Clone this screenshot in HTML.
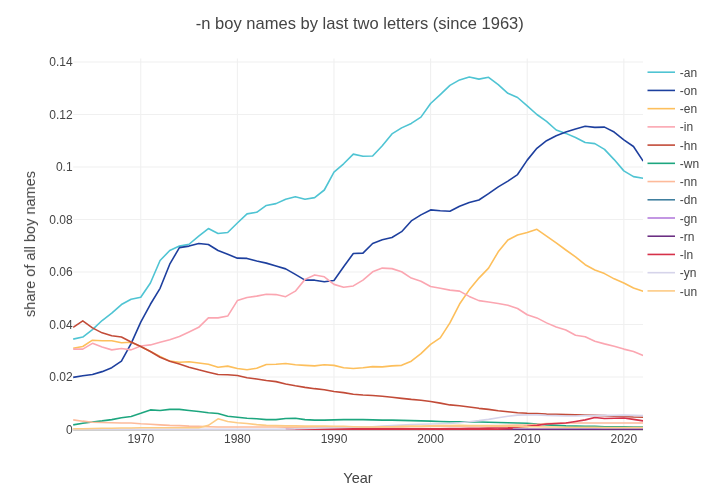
<!DOCTYPE html>
<html><head><meta charset="utf-8"><title>-n boy names by last two letters (since 1963)</title>
<style>
html,body{margin:0;padding:0;background:#fff;}
body{width:720px;height:503px;overflow:hidden;}
svg{display:block;font-family:"Liberation Sans",sans-serif;}
.tick{font-size:12px;fill:#444;}
.leg{font-size:12px;fill:#444;}
.title{font-size:16.55px;fill:#444;}
.axt{font-size:14.5px;fill:#444;}
.grid{stroke:#f0f0f0;stroke-width:1.1;}
.ln{fill:none;stroke-width:1.6;stroke-linejoin:round;stroke-linecap:butt;}
</style></head><body>
<svg width="720" height="503" viewBox="0 0 720 503">
<rect x="0" y="0" width="720" height="503" fill="#fff"/>
<defs><filter id="bl" x="-5%" y="-5%" width="110%" height="110%"><feGaussianBlur stdDeviation="0.35"/></filter><filter id="bt" filterUnits="userSpaceOnUse" x="0" y="0" width="720" height="503"><feGaussianBlur stdDeviation="0.45"/></filter><clipPath id="cp"><rect x="73.10" y="58.50" width="570.00" height="371.45"/></clipPath></defs>

<line class="grid" x1="140.75" x2="140.75" y1="58.50" y2="430.50"/>
<line class="grid" x1="237.37" x2="237.37" y1="58.50" y2="430.50"/>
<line class="grid" x1="333.98" x2="333.98" y1="58.50" y2="430.50"/>
<line class="grid" x1="430.60" x2="430.60" y1="58.50" y2="430.50"/>
<line class="grid" x1="527.22" x2="527.22" y1="58.50" y2="430.50"/>
<line class="grid" x1="623.83" x2="623.83" y1="58.50" y2="430.50"/>
<line class="grid" x1="73.20" x2="643.00" y1="377.00" y2="377.00"/>
<line class="grid" x1="73.20" x2="643.00" y1="324.50" y2="324.50"/>
<line class="grid" x1="73.20" x2="643.00" y1="272.00" y2="272.00"/>
<line class="grid" x1="73.20" x2="643.00" y1="219.50" y2="219.50"/>
<line class="grid" x1="73.20" x2="643.00" y1="167.00" y2="167.00"/>
<line class="grid" x1="73.20" x2="643.00" y1="114.50" y2="114.50"/>
<line class="grid" x1="73.20" x2="643.00" y1="62.00" y2="62.00"/>
<line x1="73.20" x2="643.00" y1="430.30" y2="430.30" stroke="#b4b4b4" stroke-width="0.8"/>
<g clip-path="url(#cp)"><g filter="url(#bl)">
<polyline class="ln" stroke="#4FC4D3" points="73.12,339.14 82.78,337.04 92.44,329.70 102.10,320.53 111.77,313.19 121.43,304.54 131.09,299.30 140.75,297.20 150.41,283.05 160.07,260.51 169.74,250.55 179.40,246.09 189.06,244.26 198.72,236.13 208.38,228.53 218.04,233.51 227.71,232.46 237.37,223.03 247.03,213.85 256.69,212.28 266.35,205.47 276.01,203.63 285.68,199.18 295.34,196.82 305.00,199.18 314.66,197.60 324.32,190.00 333.98,172.18 343.64,163.79 353.31,154.10 362.97,156.19 372.63,155.93 382.29,145.71 391.95,133.91 401.61,127.88 411.28,123.43 420.94,117.14 430.60,103.51 440.26,94.60 449.92,85.42 459.58,79.92 469.25,77.04 478.91,79.13 488.57,77.30 498.23,84.64 507.89,93.29 517.55,97.48 527.22,105.87 536.88,114.52 546.54,121.33 556.20,129.98 565.86,133.39 575.52,137.58 585.18,142.56 594.85,143.61 604.51,149.38 614.17,159.60 623.83,170.87 633.49,176.64 643.15,178.21"/>
<polyline class="ln" stroke="#1F3F9E" points="73.12,377.40 82.78,375.83 92.44,374.52 102.10,371.64 111.77,367.71 121.43,361.15 131.09,343.59 140.75,322.10 150.41,304.28 160.07,288.29 169.74,264.18 179.40,247.66 189.06,246.09 198.72,243.47 208.38,244.52 218.04,250.55 227.71,254.22 237.37,258.15 247.03,258.41 256.69,261.03 266.35,263.13 276.01,266.01 285.68,268.89 295.34,274.40 305.00,280.17 314.66,280.17 324.32,281.74 333.98,280.43 343.64,266.80 353.31,253.43 362.97,253.17 372.63,243.47 382.29,239.80 391.95,237.44 401.61,231.68 411.28,220.93 420.94,214.90 430.60,209.92 440.26,210.71 449.92,211.23 459.58,206.25 469.25,202.58 478.91,199.96 488.57,193.67 498.23,186.86 507.89,181.09 517.55,174.54 527.22,160.12 536.88,148.33 546.54,140.73 556.20,135.75 565.86,132.08 575.52,128.93 585.18,126.31 594.85,127.36 604.51,127.10 614.17,132.08 623.83,139.94 633.49,146.49 643.15,161.17"/>
<polyline class="ln" stroke="#FDBF5B" points="73.12,348.31 82.78,346.48 92.44,340.19 102.10,340.71 111.77,340.71 121.43,342.81 131.09,342.28 140.75,346.48 150.41,351.46 160.07,356.44 169.74,361.15 179.40,362.20 189.06,361.68 198.72,362.99 208.38,364.30 218.04,367.18 227.71,366.13 237.37,368.49 247.03,369.80 256.69,368.23 266.35,364.56 276.01,364.30 285.68,363.51 295.34,364.82 305.00,365.35 314.66,365.87 324.32,364.82 333.98,365.35 343.64,367.71 353.31,368.49 362.97,367.71 372.63,366.66 382.29,366.92 391.95,365.87 401.61,365.35 411.28,361.15 420.94,353.55 430.60,344.38 440.26,337.83 449.92,322.89 459.58,304.02 469.25,289.86 478.91,278.07 488.57,268.11 498.23,251.86 507.89,240.06 517.55,235.08 527.22,232.46 536.88,229.32 546.54,236.13 556.20,242.95 565.86,250.02 575.52,256.84 585.18,264.70 594.85,269.94 604.51,273.61 614.17,278.85 623.83,283.05 633.49,288.03 643.15,291.17"/>
<polyline class="ln" stroke="#FBA6B1" points="73.12,349.10 82.78,349.10 92.44,343.33 102.10,347.00 111.77,349.88 121.43,348.57 131.09,349.88 140.75,345.95 150.41,344.90 160.07,342.28 169.74,339.66 179.40,336.52 189.06,332.06 198.72,327.34 208.38,317.91 218.04,317.91 227.71,316.07 237.37,300.61 247.03,297.46 256.69,296.15 266.35,294.32 276.01,294.58 285.68,296.68 295.34,291.17 305.00,279.38 314.66,274.92 324.32,276.76 333.98,284.36 343.64,287.24 353.31,285.93 362.97,280.17 372.63,271.78 382.29,268.11 391.95,268.63 401.61,271.78 411.28,278.07 420.94,281.21 430.60,286.46 440.26,288.29 449.92,290.12 459.58,291.17 469.25,296.42 478.91,300.61 488.57,301.92 498.23,303.49 507.89,305.33 517.55,308.47 527.22,314.76 536.88,317.91 546.54,322.89 556.20,327.08 565.86,329.96 575.52,335.21 585.18,336.78 594.85,341.23 604.51,343.86 614.17,346.21 623.83,349.10 633.49,351.46 643.15,355.39"/>
<polyline class="ln" stroke="#C24B38" points="73.12,327.34 82.78,320.79 92.44,327.87 102.10,332.85 111.77,335.73 121.43,337.04 131.09,342.02 140.75,346.48 150.41,351.46 160.07,357.22 169.74,361.15 179.40,364.04 189.06,367.18 198.72,369.80 208.38,372.16 218.04,374.52 227.71,374.78 237.37,375.57 247.03,377.67 256.69,378.98 266.35,380.55 276.01,381.60 285.68,383.96 295.34,385.79 305.00,387.36 314.66,388.67 324.32,389.72 333.98,391.56 343.64,392.61 353.31,394.18 362.97,394.96 372.63,395.49 382.29,396.28 391.95,397.32 401.61,398.37 411.28,399.42 420.94,400.21 430.60,401.52 440.26,403.09 449.92,404.92 459.58,405.71 469.25,407.02 478.91,408.33 488.57,409.38 498.23,410.69 507.89,411.74 517.55,412.79 527.22,413.31 536.88,413.57 546.54,414.10 556.20,414.36 565.86,414.62 575.52,414.88 585.18,415.15 594.85,415.41 604.51,415.67 614.17,416.19 623.83,416.46 633.49,416.98 643.15,417.24"/>
<polyline class="ln" stroke="#1FA67F" points="73.12,424.84 82.78,423.27 92.44,421.96 102.10,420.91 111.77,419.60 121.43,417.77 131.09,416.46 140.75,413.31 150.41,409.90 160.07,410.43 169.74,409.38 179.40,409.38 189.06,410.43 198.72,411.48 208.38,412.79 218.04,413.57 227.71,416.19 237.37,417.24 247.03,418.29 256.69,418.82 266.35,419.60 276.01,419.60 285.68,418.55 295.34,418.29 305.00,419.60 314.66,420.13 324.32,420.13 333.98,419.86 343.64,419.60 353.31,419.60 362.97,419.60 372.63,419.86 382.29,420.13 391.95,420.13 401.61,420.39 411.28,420.65 420.94,420.91 430.60,421.17 440.26,421.44 449.92,421.70 459.58,421.70 469.25,421.96 478.91,421.96 488.57,422.22 498.23,422.49 507.89,422.75 517.55,423.01 527.22,423.27 536.88,424.06 546.54,424.84 556.20,425.37 565.86,425.89 575.52,426.15 585.18,426.42 594.85,426.42 604.51,426.68 614.17,426.68 623.83,426.68 633.49,426.94 643.15,426.94"/>
<polyline class="ln" stroke="#FDBA9A" points="73.12,419.86 82.78,421.17 92.44,422.22 102.10,422.49 111.77,422.75 121.43,423.01 131.09,423.01 140.75,423.80 150.41,424.32 160.07,424.84 169.74,425.37 179.40,425.63 189.06,426.15 198.72,426.42 208.38,426.68 218.04,426.94 227.71,426.94 237.37,426.94 247.03,426.94 256.69,426.94 266.35,426.94 276.01,426.94 285.68,427.20 295.34,427.20 305.00,427.20 314.66,427.20 324.32,427.20 333.98,427.20 343.64,427.20 353.31,427.20 362.97,427.20 372.63,427.20 382.29,426.94 391.95,426.94 401.61,426.94 411.28,426.68 420.94,426.68 430.60,426.42 440.26,426.42 449.92,426.15 459.58,426.15 469.25,425.89 478.91,425.89 488.57,425.63 498.23,425.63 507.89,425.37 517.55,425.11 527.22,424.84 536.88,424.32 546.54,423.53 556.20,423.27 565.86,423.01 575.52,423.01 585.18,423.01 594.85,423.01 604.51,423.01 614.17,423.01 623.83,423.01 633.49,423.01 643.15,423.01"/>
<polyline class="ln" stroke="#3F7F9F" points=""/>
<polyline class="ln" stroke="#B57EDC" points=""/>
<polyline class="ln" stroke="#6C2D82" points="498.23,429.30 507.89,429.30 517.55,429.30 527.22,429.30 536.88,429.30 546.54,429.30 556.20,429.30 565.86,429.30 575.52,429.30 585.18,429.30 594.85,429.30 604.51,429.30 614.17,429.30 623.83,429.30 633.49,429.30 643.15,429.30"/>
<polyline class="ln" stroke="#D6304A" points="295.34,429.30 498.23,429.30 512.72,428.51"/>
<polyline class="ln" stroke="#D6304A" points="285.68,429.04 295.34,428.91 305.00,428.91 314.66,428.91 324.32,428.91 333.98,428.91 343.64,428.91 353.31,428.91 362.97,428.91 372.63,428.91 382.29,428.91 391.95,428.91 401.61,428.91 411.28,428.91 420.94,428.91 430.60,428.91 440.26,428.78 449.92,428.51 459.58,428.51 469.25,428.25 478.91,428.25 488.57,428.12 498.23,427.99 507.89,427.73 517.55,427.20 527.22,426.42 536.88,425.37 546.54,424.06 556.20,423.53 565.86,423.01 575.52,421.44 585.18,419.86 594.85,417.51 604.51,418.55 614.17,418.29 623.83,418.03 633.49,419.34 643.15,420.91"/>
<polyline class="ln" stroke="#D6D4EA" points="73.12,429.30 82.78,429.30 92.44,429.30 102.10,429.30 111.77,429.30 121.43,429.30 131.09,429.30 140.75,429.30 150.41,429.30 160.07,429.30 169.74,429.30 179.40,429.30 189.06,429.30 198.72,429.30 208.38,429.30 218.04,429.30 227.71,429.30 237.37,429.30 247.03,429.30 256.69,429.30 266.35,429.30 276.01,429.30 285.68,429.04 295.34,428.78 305.00,428.51 314.66,428.25 324.32,427.99 333.98,427.73 343.64,427.47 353.31,427.20 362.97,426.94 372.63,426.68 382.29,426.15 391.95,425.63 401.61,425.11 411.28,424.58 420.94,424.32 430.60,424.06 440.26,423.80 449.92,423.53 459.58,422.75 469.25,421.70 478.91,420.65 488.57,419.34 498.23,417.77 507.89,416.19 517.55,415.15 527.22,414.88 536.88,414.88 546.54,415.41 556.20,415.67 565.86,415.93 575.52,415.93 585.18,415.67 594.85,415.67 604.51,415.41 614.17,415.41 623.83,415.15 633.49,415.41 643.15,415.67"/>
<polyline class="ln" stroke="#FDCB85" points="73.12,428.78 82.78,428.78 92.44,428.51 102.10,428.25 111.77,428.25 121.43,427.99 131.09,427.99 140.75,427.73 150.41,427.73 160.07,427.73 169.74,427.73 179.40,427.73 189.06,427.73 198.72,427.73 208.38,425.37 218.04,418.82 227.71,421.44 237.37,422.75 247.03,423.53 256.69,424.58 266.35,425.37 276.01,425.63 285.68,425.89 295.34,425.89 305.00,426.15 314.66,426.15 324.32,426.15 333.98,426.42 343.64,426.42 353.31,426.68 362.97,426.94 372.63,426.94 382.29,426.68 391.95,426.68 401.61,426.42 411.28,426.15 420.94,426.15 430.60,425.89 440.26,425.63 449.92,425.63 459.58,425.37 469.25,425.63 478.91,425.63 488.57,425.89 498.23,426.15 507.89,426.15 517.55,426.42 527.22,426.68 536.88,426.68 546.54,426.94 556.20,426.94 565.86,427.20 575.52,427.20 585.18,427.20 594.85,427.20 604.51,427.47 614.17,427.47 623.83,427.47 633.49,427.47 643.15,427.47"/>
</g></g>
<g filter="url(#bt)">
<text class="tick" x="140.75" y="442.6" text-anchor="middle">1970</text>
<text class="tick" x="237.37" y="442.6" text-anchor="middle">1980</text>
<text class="tick" x="333.98" y="442.6" text-anchor="middle">1990</text>
<text class="tick" x="430.60" y="442.6" text-anchor="middle">2000</text>
<text class="tick" x="527.22" y="442.6" text-anchor="middle">2010</text>
<text class="tick" x="623.83" y="442.6" text-anchor="middle">2020</text>
<text class="tick" x="72.6" y="433.70" text-anchor="end">0</text>
<text class="tick" x="72.6" y="381.20" text-anchor="end">0.02</text>
<text class="tick" x="72.6" y="328.70" text-anchor="end">0.04</text>
<text class="tick" x="72.6" y="276.20" text-anchor="end">0.06</text>
<text class="tick" x="72.6" y="223.70" text-anchor="end">0.08</text>
<text class="tick" x="72.6" y="171.20" text-anchor="end">0.1</text>
<text class="tick" x="72.6" y="118.70" text-anchor="end">0.12</text>
<text class="tick" x="72.6" y="66.20" text-anchor="end">0.14</text>
<line x1="647.5" x2="675" y1="72.20" y2="72.20" stroke="#4FC4D3" stroke-width="1.6"/>
<text class="leg" x="679.8" y="76.80">-an</text>
<line x1="647.5" x2="675" y1="90.43" y2="90.43" stroke="#1F3F9E" stroke-width="1.6"/>
<text class="leg" x="679.8" y="95.03">-on</text>
<line x1="647.5" x2="675" y1="108.65" y2="108.65" stroke="#FDBF5B" stroke-width="1.6"/>
<text class="leg" x="679.8" y="113.25">-en</text>
<line x1="647.5" x2="675" y1="126.88" y2="126.88" stroke="#FBA6B1" stroke-width="1.6"/>
<text class="leg" x="679.8" y="131.47">-in</text>
<line x1="647.5" x2="675" y1="145.10" y2="145.10" stroke="#C24B38" stroke-width="1.6"/>
<text class="leg" x="679.8" y="149.70">-hn</text>
<line x1="647.5" x2="675" y1="163.32" y2="163.32" stroke="#1FA67F" stroke-width="1.6"/>
<text class="leg" x="679.8" y="167.92">-wn</text>
<line x1="647.5" x2="675" y1="181.55" y2="181.55" stroke="#FDBA9A" stroke-width="1.6"/>
<text class="leg" x="679.8" y="186.15">-nn</text>
<line x1="647.5" x2="675" y1="199.78" y2="199.78" stroke="#3F7F9F" stroke-width="1.6"/>
<text class="leg" x="679.8" y="204.38">-dn</text>
<line x1="647.5" x2="675" y1="218.00" y2="218.00" stroke="#B57EDC" stroke-width="1.6"/>
<text class="leg" x="679.8" y="222.60">-gn</text>
<line x1="647.5" x2="675" y1="236.23" y2="236.23" stroke="#6C2D82" stroke-width="1.6"/>
<text class="leg" x="679.8" y="240.83">-rn</text>
<line x1="647.5" x2="675" y1="254.45" y2="254.45" stroke="#D6304A" stroke-width="1.6"/>
<text class="leg" x="679.8" y="259.05">-ln</text>
<line x1="647.5" x2="675" y1="272.68" y2="272.68" stroke="#D6D4EA" stroke-width="1.6"/>
<text class="leg" x="679.8" y="277.28">-yn</text>
<line x1="647.5" x2="675" y1="290.90" y2="290.90" stroke="#FDCB85" stroke-width="1.6"/>
<text class="leg" x="679.8" y="295.50">-un</text>
<text class="title" x="359.8" y="28.7" text-anchor="middle">-n boy names by last two letters (since 1963)</text>
<text class="axt" x="358" y="482.6" text-anchor="middle">Year</text>
<text class="axt" transform="translate(35,244.1) rotate(-90)" text-anchor="middle">share of all boy names</text>
</g>
</svg></body></html>
